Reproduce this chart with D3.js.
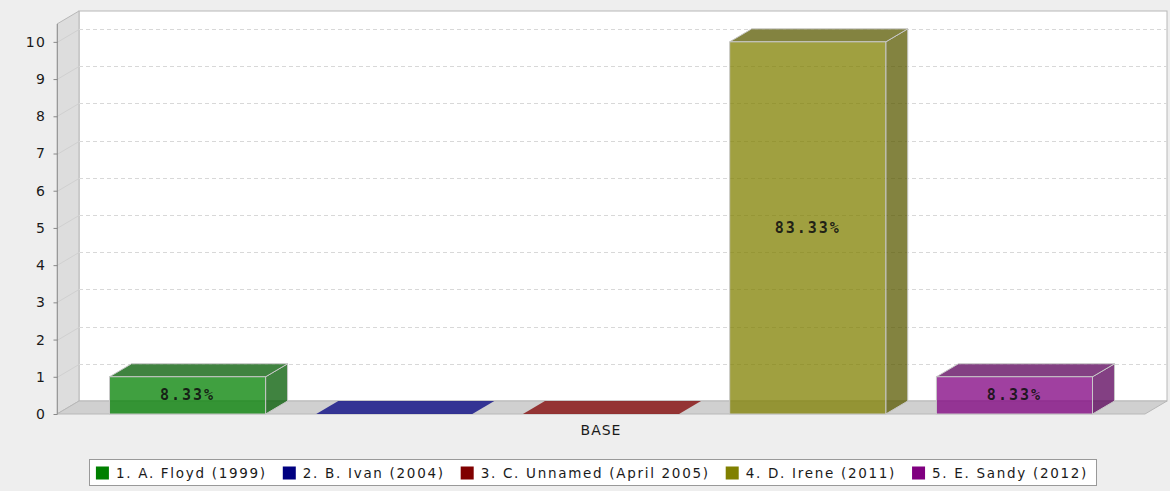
<!DOCTYPE html>
<html>
<head>
<meta charset="utf-8">
<script src="https://cdn.jsdelivr.net/npm/d3@7"></script>
<style>
  html, body { margin: 0; padding: 0; background: #EEEEEE; }
  svg { display: block; }
</style>
</head>
<body>
<svg id="chart" width="1170" height="491"></svg>
<script>
const category = "BASE";
const seriesNames = ["1. A. Floyd (1999)", "2. B. Ivan (2004)", "3. C. Unnamed (April 2005)", "4. D. Irene (2011)", "5. E. Sandy (2012)"];
const seriesValues = [1, 0, 0, 10, 1];
const seriesColors = ["#008000", "#000080", "#800000", "#808000", "#800080"];
const yTicks = [0, 1, 2, 3, 4, 5, 6, 7, 8, 9, 10];

(function () {
const W = 1170, H = 491;
const svg = d3.select("#chart");
svg.append("rect").attr("width", W).attr("height", H).attr("fill", "#EEEEEE");

const dx = 22, dy = 13;
const pLeft = 57, pRight = 1145, pBottom = 414, pTop = 24;

const y = d3.scaleLinear().domain([0, 10.48]).range([pBottom, pTop]);
const x = d3.scaleBand().domain(d3.range(seriesNames.length)).range([pLeft, pRight])
  .paddingInner(0.245).paddingOuter(0.254);

// back wall
svg.append("rect").attr("x", pLeft + dx).attr("y", pTop - dy)
  .attr("width", pRight - pLeft).attr("height", pBottom - pTop)
  .attr("fill", "#FFFFFF").attr("stroke", "#B8B8B8").attr("stroke-width", 1);
// left wall
svg.append("polygon")
  .attr("points", [[pLeft, pTop], [pLeft + dx, pTop - dy], [pLeft + dx, pBottom - dy], [pLeft, pBottom]].join(" "))
  .attr("fill", "#DDDDDD").attr("stroke", "#B8B8B8").attr("stroke-width", 1);
// floor
svg.append("polygon")
  .attr("points", [[pLeft, pBottom], [pRight, pBottom], [pRight + dx, pBottom - dy], [pLeft + dx, pBottom - dy]].join(" "))
  .attr("fill", "#D0D0D0").attr("stroke", "#B8B8B8").attr("stroke-width", 1);

// grid lines
const grid = svg.append("g");
yTicks.filter(t => t > 0).forEach(t => {
  const yy = Math.round(y(t)) + 0.5;
  grid.append("line").attr("x1", pLeft + dx).attr("x2", pRight + dx)
    .attr("y1", yy - dy).attr("y2", yy - dy)
    .attr("stroke", "#D8D8D8").attr("stroke-dasharray", "4,3").attr("stroke-width", 1);
  grid.append("line").attr("x1", pLeft).attr("x2", pLeft + dx)
    .attr("y1", yy).attr("y2", yy - dy)
    .attr("stroke", "#D0D0D0").attr("stroke-width", 1);
});

// axis
const axis = svg.append("g").attr("transform", `translate(${pLeft + 0.5},0)`)
  .call(d3.axisLeft(y).tickValues(yTicks).tickSize(4).tickPadding(7).tickFormat(d3.format("d")));
axis.select(".domain").attr("stroke", "#999999").attr("d", `M0,${pTop}V${pBottom}`);
axis.selectAll(".tick line").attr("stroke", "#888888");
axis.selectAll(".tick text").attr("font-family", "DejaVu Sans, sans-serif")
  .attr("font-size", 14).attr("fill", "#1a1a1a").style("letter-spacing", "1.5px");

// bars
function darker(c) {
  const r = d3.rgb(c);
  return d3.rgb(r.r * 0.7, r.g * 0.7, r.b * 0.7).formatHex();
}
const total = d3.sum(seriesValues);
const bars = svg.append("g");
seriesValues.forEach((v, i) => {
  const x0 = x(i), w = x.bandwidth(), x1 = x0 + w;
  const yt = y(v), yb = y(0);
  const col = seriesColors[i];
  if (v === 0) {
    bars.append("polygon")
      .attr("points", [[x0, yb], [x0 + dx, yb - dy], [x1 + dx, yb - dy], [x1, yb]].join(" "))
      .attr("fill", col).attr("fill-opacity", 0.75);
    return;
  }
  const g = bars.append("g");
  g.append("polygon")
    .attr("points", [[x1, yt], [x1 + dx, yt - dy], [x1 + dx, yb - dy], [x1, yb]].join(" "))
    .attr("fill", darker(col)).attr("fill-opacity", 0.75)
    .attr("stroke", "#C8C8C8").attr("stroke-width", 1);
  g.append("polygon")
    .attr("points", [[x0, yt], [x0 + dx, yt - dy], [x1 + dx, yt - dy], [x1, yt]].join(" "))
    .attr("fill", darker(col)).attr("fill-opacity", 0.75)
    .attr("stroke", "#C8C8C8").attr("stroke-width", 1);
  g.append("rect").attr("x", x0).attr("y", yt).attr("width", w).attr("height", yb - yt)
    .attr("fill", col).attr("fill-opacity", 0.75)
    .attr("stroke", "#C8C8C8").attr("stroke-width", 1);
  g.append("text").attr("x", x0 + w / 2).attr("y", (yt + yb) / 2)
    .attr("text-anchor", "middle").attr("dominant-baseline", "central")
    .attr("font-family", "DejaVu Sans Mono, monospace").attr("font-weight", "bold")
    .attr("font-size", 15).attr("fill", "#111111").attr("fill-opacity", 0.9)
    .style("letter-spacing", "2px")
    .text(d3.format(".2f")(v / total * 100) + "%");
});

// category label
svg.append("text").attr("x", (pLeft + pRight) / 2).attr("y", 430)
  .attr("text-anchor", "middle").attr("dominant-baseline", "central")
  .attr("font-family", "DejaVu Sans, sans-serif").attr("font-size", 14)
  .style("letter-spacing", "1px").attr("fill", "#1a1a1a").text(category);

// legend
const lg = svg.append("g");
const boxRect = lg.append("rect").attr("fill", "#FFFFFF").attr("stroke", "#999999").attr("stroke-width", 1);
const items = [];
seriesNames.forEach((name, i) => {
  const it = lg.append("g");
  it.append("rect").attr("x", 0).attr("y", -6).attr("width", 13).attr("height", 13)
    .attr("fill", seriesColors[i]);
  const t = it.append("text").attr("x", 20).attr("y", 0).attr("dominant-baseline", "central")
    .attr("font-family", "DejaVu Sans, sans-serif").attr("font-size", 13.5)
    .style("letter-spacing", "1.7px").attr("fill", "#1a1a1a").text(name);
  const tw = t.node().getComputedTextLength();
  items.push({ g: it, w: 20 + tw });
});
const gap = 16, padL = 7, padR = 8;
const totalW = d3.sum(items, d => d.w) + gap * (items.length - 1) + padL + padR;
const bx = 592.5 - totalW / 2, by = 459, bh = 26;
let cx = bx + padL;
items.forEach(d => {
  d.g.attr("transform", `translate(${cx},${by + bh / 2 + 0.5})`);
  cx += d.w + gap;
});
boxRect.attr("x", Math.round(bx) + 0.5).attr("y", by + 0.5).attr("width", Math.round(totalW)).attr("height", bh);
})();
</script>
</body>
</html>
